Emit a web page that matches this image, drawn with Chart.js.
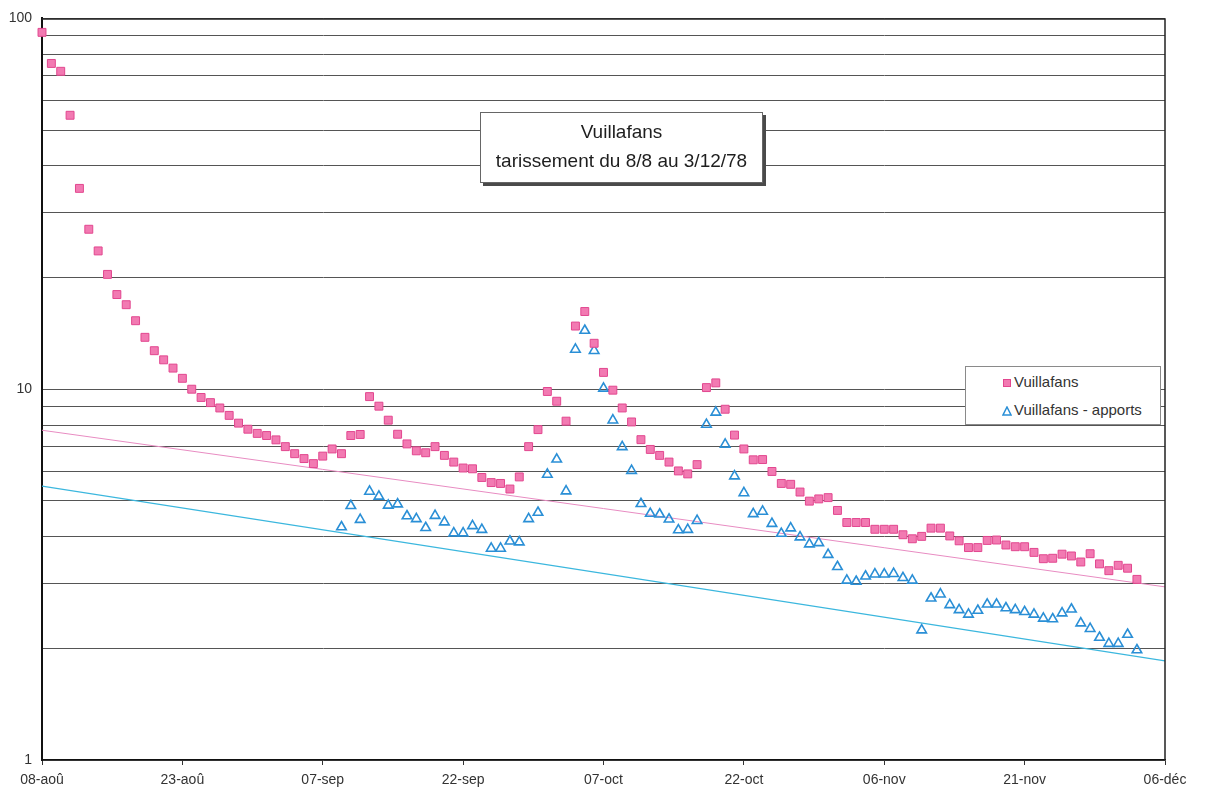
<!DOCTYPE html>
<html>
<head>
<meta charset="utf-8">
<script src="https://cdn.jsdelivr.net/npm/chart.js@4.4.1/dist/chart.umd.min.js"></script>
<style>
html,body{margin:0;padding:0;background:#fff;}
#wrap{position:relative;width:1205px;height:807px;overflow:hidden;background:#fff;}
#c{position:absolute;left:0;top:0;}
#title{position:absolute;left:480px;top:112px;width:281px;height:69px;border:1px solid #666;background:#fff;
  box-shadow:3px 3px 0 #4a4a4a;font-family:"Liberation Sans",Arial,sans-serif;color:#1e1e1e;text-align:center;}
#title .l1{position:absolute;left:0;right:0;top:8px;font-size:19px;line-height:22px;}
#title .l2{position:absolute;left:0;right:0;top:37px;font-size:19px;line-height:22px;}
#legend{position:absolute;left:965px;top:366px;width:194px;height:57px;border:1px solid #8a8a8a;background:#fff;
  font-family:"Liberation Sans",Arial,sans-serif;font-size:15px;color:#333;}
#legend .row{position:absolute;left:36px;height:18px;line-height:18px;white-space:nowrap;}
#legend svg{vertical-align:middle;margin-right:2px;}
</style>
</head>
<body>
<div id="wrap">
  <canvas id="c" width="1205" height="807"></canvas>
  <div id="title"></div>
  <div id="legend"></div>
</div>
<script>
// ---- data ----
const titleLines = ['Vuillafans', 'tarissement du 8/8 au 3/12/78'];
const seriesNames = ['Vuillafans', 'Vuillafans - apports'];
// x axis: days counted from 08-aoû-1978
const tickDays = [0, 15, 30, 45, 60, 75, 90, 105, 120];
const tickLabels = ['08-aoû', '23-aoû', '07-sep', '22-sep', '07-oct', '22-oct', '06-nov', '21-nov', '06-déc'];
const yTickValues = [1, 2, 3, 4, 5, 6, 7, 8, 9, 10, 20, 30, 40, 50, 60, 70, 80, 90, 100];
const yTickLabelled = [1, 10, 100];

// Vuillafans: daily values from 08-aoû (day 0) to 03-déc (day 117)
const vuillafansStartDay = 0;
const vuillafans = [
  91.7, 75.6, 72.0, 54.8, 34.8, 27.0, 23.6, 20.4, 18.0, 16.9,
  15.3, 13.8, 12.7, 12.0, 11.4, 10.7, 10.0, 9.5, 9.2, 8.9,
  8.5, 8.1, 7.8, 7.6, 7.5, 7.3, 7.0, 6.7, 6.5, 6.3,
  6.6, 6.9, 6.7, 7.5, 7.55, 9.55, 9.0, 8.25, 7.56, 7.12,
  6.82, 6.74, 7.0, 6.63, 6.36, 6.13, 6.1, 5.78, 5.6, 5.57,
  5.38, 5.8, 7.0, 7.78, 9.86, 9.28, 8.2, 14.8, 16.2, 13.3,
  11.1, 9.94, 8.9, 8.16, 7.31, 6.88, 6.63, 6.36, 6.02, 5.91,
  6.26, 10.1, 10.4, 8.83, 7.52, 6.9, 6.45, 6.46, 6.0, 5.57,
  5.54, 5.28, 4.99, 5.06, 5.1, 4.71, 4.37, 4.37, 4.37, 4.19,
  4.19, 4.19, 4.05, 3.95, 4.01, 4.22, 4.22, 4.02, 3.9, 3.74,
  3.74, 3.91, 3.92, 3.8, 3.76, 3.76, 3.63, 3.49, 3.5, 3.59,
  3.55, 3.42, 3.6, 3.38, 3.24, 3.35, 3.29, 3.07
];

// Vuillafans - apports: daily values from day 32 to day 117
const apportsStartDay = 32;
const apports = [
  4.25, 4.85, 4.45, 5.3, 5.14, 4.86, 4.9, 4.55, 4.47, 4.23,
  4.56, 4.38, 4.09, 4.09, 4.28, 4.18, 3.72, 3.72, 3.89, 3.87,
  4.47, 4.65, 5.89, 6.47, 5.31, 12.8, 14.4, 12.7, 10.05, 8.25,
  6.99, 6.03, 4.91, 4.62, 4.6, 4.46, 4.17, 4.18, 4.42, 8.03,
  8.66, 7.1, 5.83, 5.25, 4.61, 4.68, 4.34, 4.08, 4.22, 3.99,
  3.82, 3.85, 3.58, 3.32, 3.05, 3.03, 3.13, 3.17, 3.17, 3.18,
  3.1, 3.05, 2.24, 2.73, 2.8, 2.62, 2.54, 2.47, 2.53, 2.63,
  2.63, 2.57, 2.54, 2.51, 2.47, 2.41, 2.4, 2.49, 2.55, 2.34,
  2.26, 2.14, 2.06, 2.06, 2.18, 1.98
];

// exponential trend lines (end values read at the axis limits)
const trendDays = [0, 120];
const vuillafansTrend = [7.75, 2.93];
const apportsTrend = [5.48, 1.85];

// ---- styles ----
const FONT = '"Liberation Sans", Arial, sans-serif';
const PINK_FILL = '#f27ab2', PINK_EDGE = '#e2478f';
const BLUE_EDGE = '#2a8fd6';

const toPoints = (start, arr) => arr.map((v, i) => ({x: start + i, y: v}));
const pairPoints = (xs, ys) => xs.map((x, i) => ({x: x, y: ys[i]}));

const framePlugin = {
  id: 'frame',
  afterDraw(chart) {
    const {ctx, chartArea: a} = chart;
    ctx.save();
    ctx.strokeStyle = '#222';
    ctx.lineWidth = 1.5;
    ctx.beginPath();
    ctx.moveTo(a.left, a.top + 0.5);
    ctx.lineTo(a.right, a.top + 0.5);
    ctx.lineTo(a.right, a.bottom);
    ctx.stroke();
    ctx.restore();
  }
};

const chart = new Chart(document.getElementById('c'), {
  type: 'scatter',
  data: {
    datasets: [
      {label: seriesNames[0], data: toPoints(vuillafansStartDay, vuillafans), pointStyle: 'rect',
       pointRadius: 5.6, pointHoverRadius: 5.6, backgroundColor: PINK_FILL, borderColor: PINK_EDGE,
       borderWidth: 1, clip: false, order: 1},
      {label: seriesNames[1], data: toPoints(apportsStartDay, apports), pointStyle: 'triangle',
       pointRadius: 5.5, pointHoverRadius: 5.5, backgroundColor: 'rgba(255,255,255,0)', borderColor: BLUE_EDGE,
       borderWidth: 1.6, clip: false, order: 2},
      {label: 'trend1', isTrend: true, data: pairPoints(trendDays, vuillafansTrend), showLine: true,
       borderColor: '#e88cc2', borderWidth: 1, pointRadius: 0, order: 3},
      {label: 'trend2', isTrend: true, data: pairPoints(trendDays, apportsTrend), showLine: true,
       borderColor: '#3bb7de', borderWidth: 1.3, pointRadius: 0, order: 4}
    ]
  },
  options: {
    responsive: false,
    animation: false,
    devicePixelRatio: 1,
    layout: {padding: {left: 0, right: 40, top: 18, bottom: 0}},
    plugins: {legend: {display: false}, tooltip: {enabled: false}},
    scales: {
      x: {
        type: 'linear', min: tickDays[0], max: tickDays[tickDays.length - 1],
        afterBuildTicks: s => { s.ticks = tickDays.map(v => ({value: v})); },
        afterFit: s => { s.height = 47; },
        ticks: {
          autoSkip: false, maxRotation: 0, padding: 7, color: '#333',
          font: {family: FONT, size: 14},
          callback: v => { const i = tickDays.indexOf(v); return i >= 0 ? tickLabels[i] : ''; }
        },
        grid: {drawOnChartArea: false, drawTicks: true, tickLength: 5, color: '#333'},
        border: {display: true, color: '#111', width: 1.5}
      },
      y: {
        type: 'logarithmic', min: 1, max: 100,
        afterBuildTicks: s => { s.ticks = yTickValues.map(v => ({value: v})); },
        afterFit: s => { s.width = 42; },
        ticks: {
          autoSkip: false, padding: 10, color: '#333',
          font: {family: FONT, size: 14},
          callback: v => yTickLabelled.includes(v) ? String(v) : ''
        },
        grid: {color: '#555', lineWidth: 1, drawTicks: false},
        border: {display: true, color: '#111', width: 2}
      }
    }
  },
  plugins: [framePlugin]
});

// title box
const t = document.getElementById('title');
titleLines.forEach((line, i) => {
  const d = document.createElement('div');
  d.className = 'l' + (i + 1);
  d.textContent = line;
  t.appendChild(d);
});

// legend built from the point datasets
const lg = document.getElementById('legend');
const rowTops = [6, 34];
chart.data.datasets.filter(ds => !ds.isTrend).forEach((ds, i) => {
  const row = document.createElement('div');
  row.className = 'row';
  row.style.top = rowTops[i] + 'px';
  const svgNS = 'http://www.w3.org/2000/svg';
  const svg = document.createElementNS(svgNS, 'svg');
  svg.setAttribute('width', '10'); svg.setAttribute('height', '10');
  if (ds.pointStyle === 'rect') {
    const r = document.createElementNS(svgNS, 'rect');
    r.setAttribute('x', '1.5'); r.setAttribute('y', '1.5');
    r.setAttribute('width', '7'); r.setAttribute('height', '7');
    r.setAttribute('fill', ds.backgroundColor); r.setAttribute('stroke', ds.borderColor);
    svg.appendChild(r);
  } else {
    const p = document.createElementNS(svgNS, 'polygon');
    p.setAttribute('points', '5,1 9,9 1,9');
    p.setAttribute('fill', 'none'); p.setAttribute('stroke', ds.borderColor);
    p.setAttribute('stroke-width', '1.5');
    svg.appendChild(p);
  }
  row.appendChild(svg);
  row.appendChild(document.createTextNode(ds.label));
  lg.appendChild(row);
});
</script>
</body>
</html>
